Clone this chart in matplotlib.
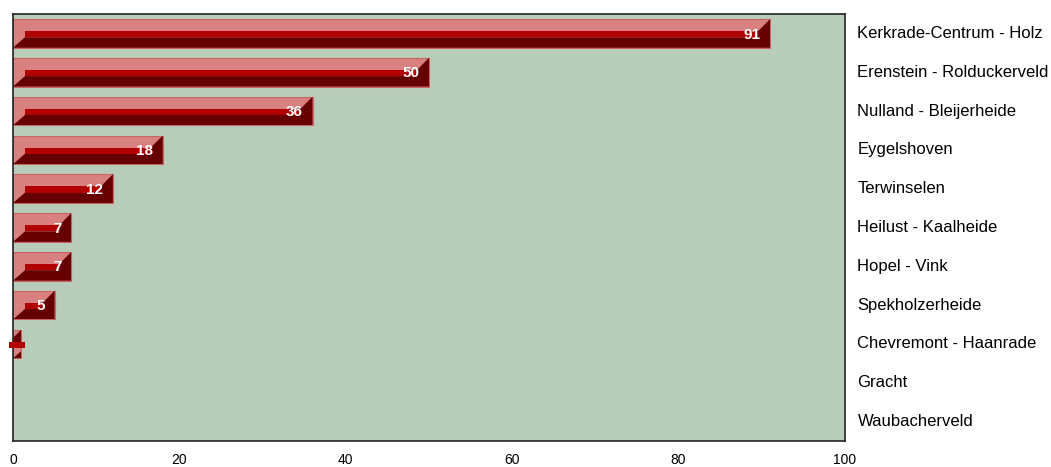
import matplotlib.pyplot as plt
from matplotlib.patches import Rectangle, Polygon

# data, top row first
wijken = ['Kerkrade-Centrum - Holz', 'Erenstein - Rolduckerveld', 'Nulland - Bleijerheide',
          'Eygelshoven', 'Terwinselen', 'Heilust - Kaalheide', 'Hopel - Vink',
          'Spekholzerheide', 'Chevremont - Haanrade', 'Gracht', 'Waubacherveld']
aantallen = [91, 50, 36, 18, 12, 7, 7, 5, 1, 0, 0]
x_ticks = [0, 20, 40, 60, 80, 100]

plt.rcParams['font.family'] = ['Liberation Sans', 'DejaVu Sans']

fig = plt.figure(figsize=(10.51, 4.67), dpi=100)
ax = fig.add_axes([13 / 1051, 1 - 441 / 467, (845 - 13) / 1051, (441 - 14) / 467])
ax.set_facecolor('#B8CDB9')
ax.set_xlim(0, 100)
ax.set_ylim(len(wijken) - 0.5, -0.5)

pink = '#D98080'
red = '#B00000'
dark = '#660000'

h = 0.74      # bar height (slot units)
dx = 1.44     # bevel depth in x (data units)
dy1 = 0.31    # top of red strip below bar top
dy2 = 0.47    # bottom of red strip below bar top

for i, v in enumerate(aantallen):
    if v <= 0:
        continue
    top = i - h / 2
    bot = i + h / 2
    ax.add_patch(Rectangle((0, top), v, h, facecolor=pink, edgecolor='#C86464', lw=0.8, zorder=2))
    poly = Polygon([(0, bot), (dx, top + dy2), (v - dx, top + dy2), (v - dx, top + dy1),
                    (v, top), (v, bot)], closed=True, facecolor=dark, edgecolor='none', zorder=3)
    ax.add_patch(poly)
    poly.set_clip_path(Rectangle((0, top), v, h, transform=ax.transData))
    ax.add_patch(Rectangle((dx, top + dy1), v - 2 * dx, dy2 - dy1, facecolor=red,
                           edgecolor='none', zorder=4, clip_on=False))
    if v > 1:
        ax.text(v - 1.2, top + 0.40, str(v), color='white', fontweight='bold',
                fontsize=11, ha='right', va='center', zorder=5)

ax.set_xticks(x_ticks)
ax.set_xticklabels([str(t) for t in x_ticks], fontsize=10)
ax.tick_params(axis='x', length=0, pad=9)
ax.set_yticks([])

for i, name in enumerate(wijken):
    ax.text(1.015, 1 - (i + 0.5) / len(wijken), name, transform=ax.transAxes,
            ha='left', va='center', fontsize=12, color='black')

for s in ax.spines.values():
    s.set_color('#222222')
    s.set_linewidth(1.2)

fig.savefig('out.png', dpi=100)
